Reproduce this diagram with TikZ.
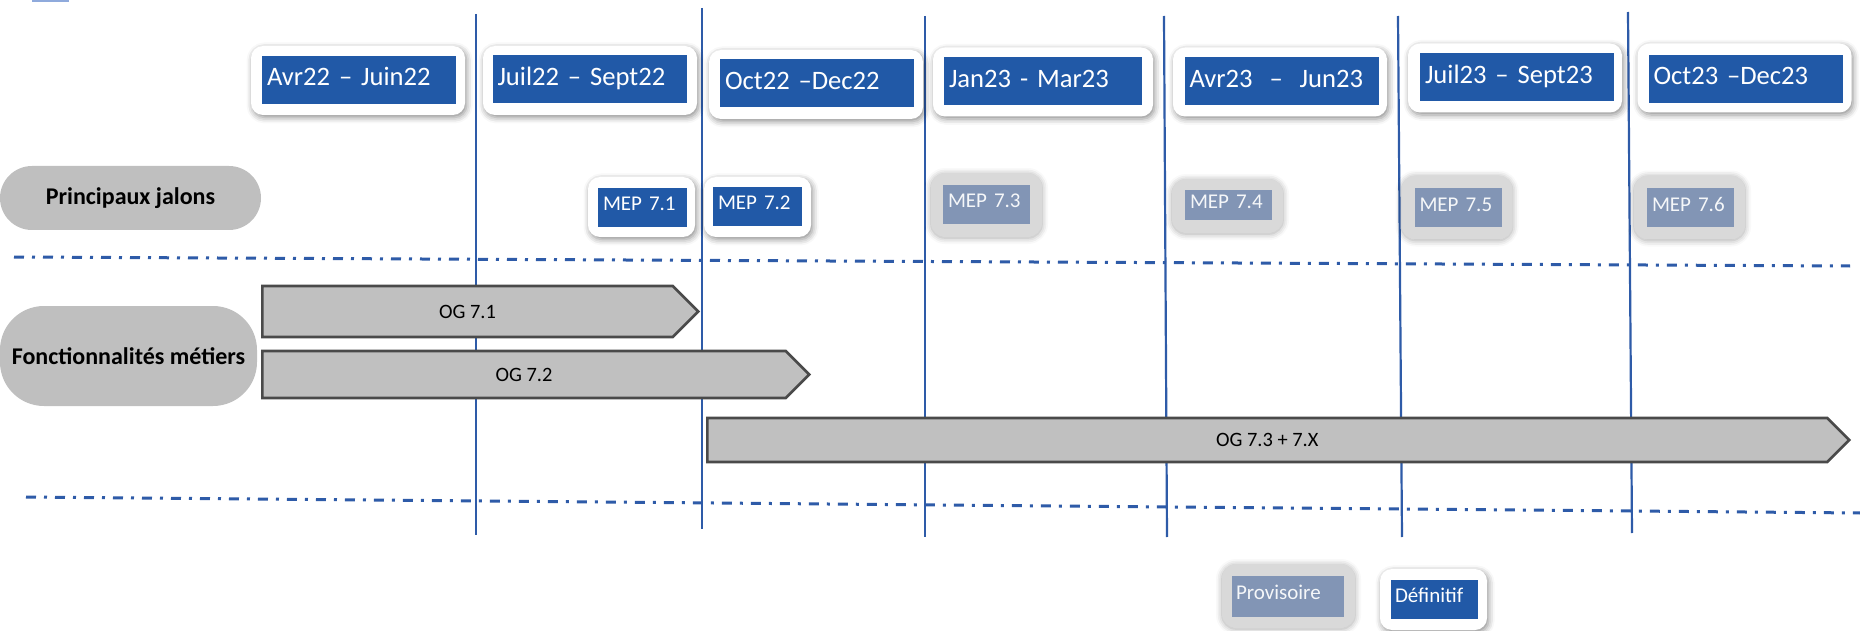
\documentclass[tikz,border=0pt]{standalone}
\usepackage{fontspec}
\setmainfont{Carlito}
\usetikzlibrary{shapes.symbols,shadows.blur}
\definecolor{mepblue}{RGB}{33,89,167}
\definecolor{provblue}{RGB}{130,149,181}
\definecolor{provgray}{RGB}{217,217,217}
\definecolor{lineblue}{RGB}{46,91,168}
\definecolor{pillgray}{RGB}{191,191,191}
\definecolor{oggray}{RGB}{192,192,192}
\definecolor{ogborder}{RGB}{74,74,74}
\definecolor{sliver}{RGB}{143,170,220}

\begin{document}
\begin{tikzpicture}[x=0.5pt,y=-0.5pt,
  hdrframe/.style={rectangle, rounded corners=6pt, fill=white, minimum width=107pt, minimum height=34.5pt,
    blur shadow={shadow xshift=0.8pt, shadow yshift=-1.2pt, shadow blur radius=3pt, shadow opacity=45}},
  hdr/.style={rectangle, fill=mepblue, text=white, font=\fontsize{13.3}{15}\selectfont,
    minimum width=97pt, minimum height=24pt, inner xsep=2.5pt, inner ysep=0pt,
    text width=92pt, align=left, text height=9.5pt, text depth=3.9pt},
  mepframe/.style={rectangle, rounded corners=6pt, fill=white, minimum width=53.5pt, minimum height=30pt,
    blur shadow={shadow xshift=0.8pt, shadow yshift=-1.2pt, shadow blur radius=3pt, shadow opacity=45}},
  provframe/.style={rectangle, rounded corners=7pt, fill=provgray, minimum width=55.5pt, minimum height=32pt,
    blur shadow={shadow xshift=0pt, shadow yshift=-0.5pt, shadow blur radius=3pt, shadow opacity=35}},
  mep/.style={rectangle, fill=mepblue, text=white, font=\fontsize{10.5}{12}\selectfont,
    minimum width=44.5pt, minimum height=19.5pt, inner xsep=2.5pt, inner ysep=0pt,
    text width=39.5pt, align=left, text height=7.5pt, text depth=4.2pt},
  prov/.style={mep, fill=provblue, text=white!92!provblue, minimum width=43.5pt, text width=38.5pt},
  jalon/.style={rectangle, fill=pillgray, font=\bfseries\fontsize{12}{14}\selectfont},
  og/.style={signal, signal to=east, signal pointer angle=90, fill=oggray, draw=ogborder,
    line width=1.3pt, inner sep=0pt, anchor=west, font=\fontsize{10.2}{12}\selectfont},
  quarter/.style={draw=lineblue, line width=1.1pt},
  sep/.style={draw=lineblue, line width=1.5pt, dash pattern=on 5pt off 4pt on 1.5pt off 4pt}]
\useasboundingbox (0,0) rectangle (1860,631);
\fill[sliver] (32,-4) rectangle (69,2);

% quarter limits
\draw[quarter] (476,14) -- (476,535);
\draw[quarter] (702,8) -- (702,529);
\draw[quarter] (925,16) -- (925,537);
\draw[quarter] (1164,16) -- (1167,537);
\draw[quarter] (1398,16) -- (1402,537);
\draw[quarter] (1628,12) -- (1632,533);
\draw[sep] (14,257) -- (1850,266);
\draw[sep] (26,497) -- (1860,513);

% quarters
\node[hdrframe] (q1f) at (358,80.5) {};
\node[hdr] (q1) at (359,80) {Avr22 – Juin22};
\node[hdrframe] (q2f) at (590,80.5) {};
\node[hdr] (q2) at (589.5,79.5) {Juil22 – Sept22};
\node[hdrframe] (q3f) at (816,84.5) {};
\node[hdr] (q3) at (817,83.5) {Oct22 –Dec22};
\node[hdrframe, minimum width=110pt] (q4f) at (1043,82) {};
\node[hdr, minimum width=99pt, text width=94pt] (q4) at (1043,81.5) {Jan23 - Mar23};
\node[hdrframe] (q5f) at (1280,82) {};
\node[hdr] (q5) at (1281.5,81.5) {\mbox{Avr23 \hspace{0.3em}–\hspace{0.3em} Jun23}};
\node[hdrframe] (q6f) at (1515,78) {};
\node[hdr] (q6) at (1517,77.5) {Juil23 – Sept23};
\node[hdrframe] (q7f) at (1744.5,78) {};
\node[hdr] (q7) at (1745.5,79) {Oct23 –Dec23};

% jalons
\node[jalon, rounded corners=16pt, minimum width=130.5pt, minimum height=32pt] (jalons) at (130.5,198) {Principaux jalons};
\node[mepframe] (mep71f) at (641.5,207) {};
\node[mep] (mep71) at (642.5,207.5) {MEP 7.1};
\node[mepframe] (mep72f) at (757.5,207) {};
\node[mep] (mep72) at (757.5,206.5) {MEP 7.2};
\node[provframe] (mep73f) at (986.5,205) {};
\node[prov] (mep73) at (986.5,204.5) {MEP 7.3};
\node[provframe, minimum height=27pt] (mep74f) at (1227.5,206) {};
\node[prov, minimum height=15pt] (mep74) at (1228.5,205.5) {MEP 7.4};
\node[provframe] (mep75f) at (1457,207.5) {};
\node[prov] (mep75) at (1458,208) {MEP 7.5};
\node[provframe] (mep76f) at (1689.5,207.5) {};
\node[prov] (mep76) at (1690.5,208) {MEP 7.6};

% fonctionnalites
\node[jalon, rounded corners=22pt, minimum width=128.5pt, minimum height=50pt] (metiers) at (128.5,356) {Fonctionnalités métiers};
\node[og, minimum width=218pt, minimum height=25.5pt] (og71) at (261,311.5) {OG 7.1};
\node[og, minimum width=273.5pt, minimum height=23.5pt] (og72) at (261,374.5) {OG 7.2};
\node[og, minimum width=571pt, minimum height=22pt] (og73) at (706,440) {OG 7.3 + 7.X};

% legende
\node[provframe, minimum width=66.5pt, minimum height=32pt] (provf) at (1288.5,596) {};
\node[prov, minimum width=56pt, minimum height=20.5pt, text width=52pt, inner xsep=2pt] (provisoire) at (1288,596.5) {Provisoire};
\node[mepframe, minimum width=53.5pt, minimum height=30.5pt] (deff) at (1433.5,599.5) {};
\node[mep, minimum width=43.5pt, minimum height=19.5pt, text width=39.5pt, inner xsep=2pt] (definitif) at (1434.5,599.5) {Définitif};
\end{tikzpicture}
\end{document}
